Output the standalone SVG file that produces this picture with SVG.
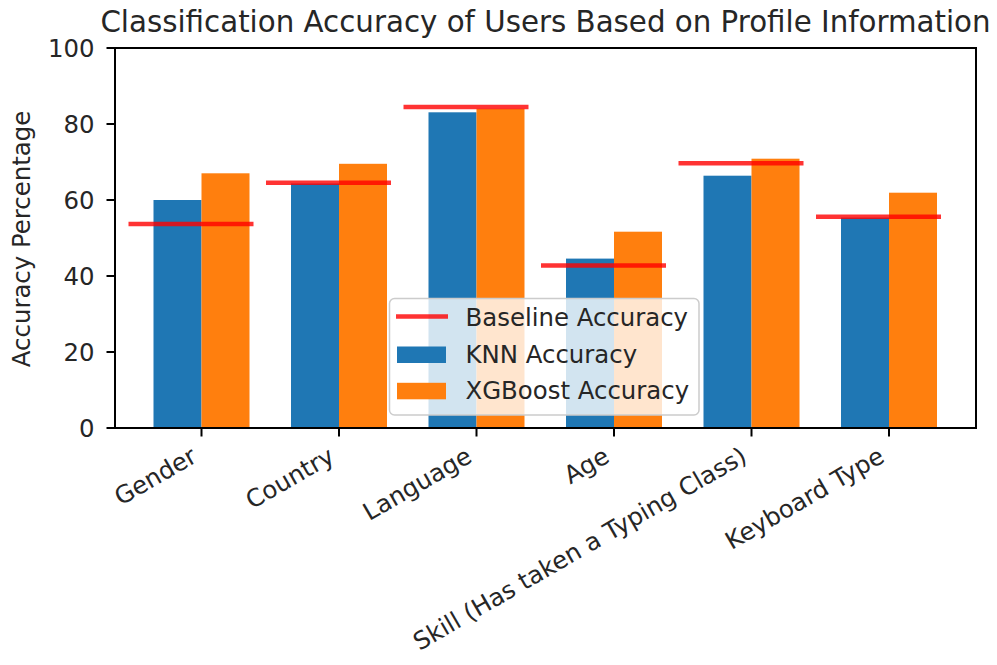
<svg xmlns="http://www.w3.org/2000/svg" width="997" height="665" viewBox="0 0 997 665">
<style>
text{font-family:"DejaVu Sans","Liberation Sans",sans-serif;fill:#262626}
.tk{font-size:24.4px}
.knn{fill:#1f77b4}
.xgb{fill:#ff7f0e}
.base{stroke:#ff0000;stroke-opacity:0.8;stroke-width:4.5;fill:none}
.spine{stroke:#000;stroke-width:2;fill:none}
.tick{stroke:#000;stroke-width:2}
</style>
<rect width="997" height="665" fill="#fff"/>
<text x="545.5" y="32" font-size="29.3" text-anchor="middle">Classification Accuracy of Users Based on Profile Information</text>
<g id="bars">
<g id="gender"><rect class="knn" x="153.5" y="200" width="48" height="228"/><rect class="xgb" x="201.5" y="173.3" width="48" height="254.7"/></g>
<g id="country"><rect class="knn" x="291" y="183.5" width="48" height="244.5"/><rect class="xgb" x="339" y="163.8" width="48" height="264.2"/></g>
<g id="language"><rect class="knn" x="428.5" y="112.3" width="48" height="315.7"/><rect class="xgb" x="476.5" y="108.8" width="48" height="319.2"/></g>
<g id="age"><rect class="knn" x="566" y="258.6" width="48" height="169.4"/><rect class="xgb" x="614" y="231.7" width="48" height="196.3"/></g>
<g id="skill"><rect class="knn" x="703.5" y="175.7" width="48" height="252.3"/><rect class="xgb" x="751.5" y="158.7" width="48" height="269.3"/></g>
<g id="keyboard"><rect class="knn" x="841" y="217.6" width="48" height="210.4"/><rect class="xgb" x="889" y="192.7" width="48" height="235.3"/></g>
</g>
<g id="baselines">
<line class="base" x1="128.5" y1="224" x2="253.5" y2="224"/>
<line class="base" x1="266" y1="182.7" x2="391" y2="182.7"/>
<line class="base" x1="403.5" y1="106.9" x2="528.5" y2="106.9"/>
<line class="base" x1="541" y1="265.4" x2="666" y2="265.4"/>
<line class="base" x1="678.5" y1="163.3" x2="803.5" y2="163.3"/>
<line class="base" x1="816" y1="216.7" x2="941" y2="216.7"/>
</g>
<g id="axes">
<rect class="spine" x="115" y="48" width="861" height="380"/>
<g class="tick">
<line x1="106.5" y1="428" x2="115" y2="428"/>
<line x1="106.5" y1="352" x2="115" y2="352"/>
<line x1="106.5" y1="276" x2="115" y2="276"/>
<line x1="106.5" y1="200" x2="115" y2="200"/>
<line x1="106.5" y1="124" x2="115" y2="124"/>
<line x1="106.5" y1="48" x2="115" y2="48"/>
<line x1="201.5" y1="428" x2="201.5" y2="436.5"/>
<line x1="339" y1="428" x2="339" y2="436.5"/>
<line x1="476.5" y1="428" x2="476.5" y2="436.5"/>
<line x1="614" y1="428" x2="614" y2="436.5"/>
<line x1="751.5" y1="428" x2="751.5" y2="436.5"/>
<line x1="889" y1="428" x2="889" y2="436.5"/>
</g>
<g class="tk" text-anchor="end">
<text x="94.5" y="436.7">0</text>
<text x="94.5" y="360.7">20</text>
<text x="94.5" y="284.7">40</text>
<text x="94.5" y="208.7">60</text>
<text x="94.5" y="132.7">80</text>
<text x="94.5" y="56.7">100</text>
<text transform="translate(198.5,461) rotate(-30)">Gender</text>
<text transform="translate(336,461) rotate(-30)">Country</text>
<text transform="translate(473.5,461) rotate(-30)">Language</text>
<text transform="translate(611,461) rotate(-30)">Age</text>
<text transform="translate(748.5,461) rotate(-30)">Skill (Has taken a Typing Class)</text>
<text transform="translate(886,461) rotate(-30)">Keyboard Type</text>
</g>
<text class="tk" transform="translate(30,239) rotate(-90)" text-anchor="middle">Accuracy Percentage</text>
</g>
<g id="legend">
<rect x="389.5" y="298.5" width="309.5" height="116.5" rx="5" fill="#fff" fill-opacity="0.8" stroke="#cccccc" stroke-width="1.5"/>
<line class="base" x1="396" y1="316.5" x2="448" y2="316.5"/>
<rect class="knn" x="397" y="346.5" width="49" height="16.5"/>
<rect class="xgb" x="397" y="382.8" width="49" height="16.5"/>
<text class="tk" x="465.5" y="326">Baseline Accuracy</text>
<text class="tk" x="465.5" y="362.5">KNN Accuracy</text>
<text class="tk" x="465.5" y="399">XGBoost Accuracy</text>
</g>
</svg>
